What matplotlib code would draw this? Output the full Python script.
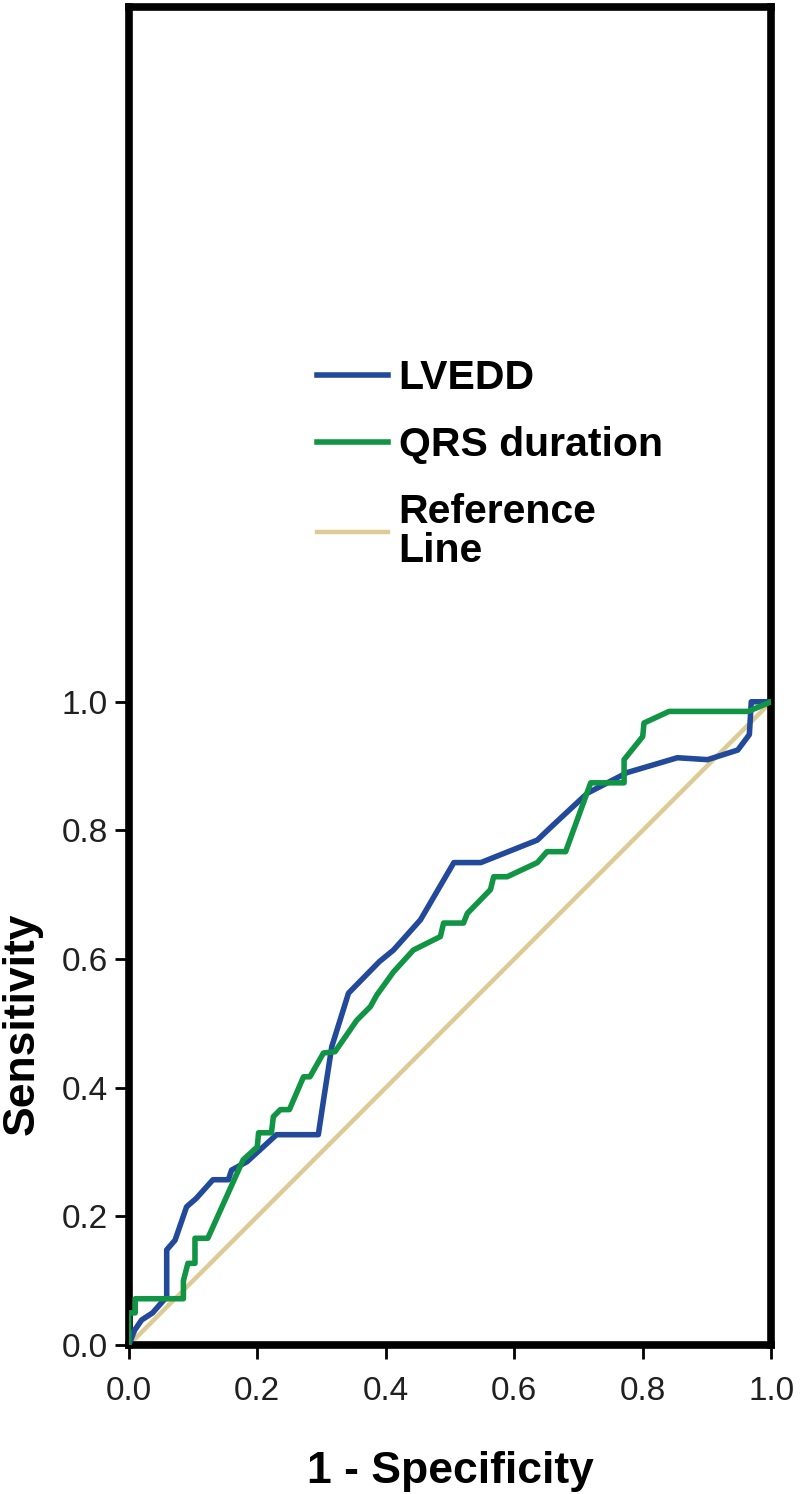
import matplotlib.pyplot as plt

plt.rcParams['font.family'] = ['Liberation Sans', 'DejaVu Sans']

# ROC curve points
lvedd_x = [0.0, 0.009, 0.02, 0.037, 0.059, 0.059, 0.072, 0.09, 0.105, 0.131, 0.155, 0.16, 0.184,
           0.23, 0.295, 0.303, 0.316, 0.342, 0.39, 0.412, 0.454, 0.506, 0.548, 0.636, 0.657,
           0.714, 0.776, 0.854, 0.901, 0.948, 0.966, 0.969, 1.0]
lvedd_y = [0.0, 0.023, 0.039, 0.05, 0.075, 0.148, 0.163, 0.215, 0.228, 0.257, 0.257, 0.272, 0.285,
           0.327, 0.327, 0.38, 0.464, 0.547, 0.596, 0.614, 0.661, 0.75, 0.75, 0.785, 0.805,
           0.858, 0.89, 0.913, 0.91, 0.925, 0.949, 1.0, 1.0]

qrs_x = [0.0, 0.0, 0.01, 0.01, 0.085, 0.085, 0.092, 0.103, 0.103, 0.123, 0.178, 0.2, 0.202, 0.222,
         0.225, 0.236, 0.25, 0.272, 0.282, 0.303, 0.321, 0.355, 0.376, 0.386, 0.412, 0.443, 0.485,
         0.49, 0.521, 0.527, 0.563, 0.568, 0.589, 0.636, 0.651, 0.657, 0.68, 0.719, 0.771, 0.771,
         0.8, 0.802, 0.841, 0.964, 1.0]
qrs_y = [0.0, 0.05, 0.05, 0.072, 0.072, 0.1, 0.127, 0.127, 0.166, 0.166, 0.288, 0.308, 0.33, 0.33,
         0.355, 0.366, 0.366, 0.417, 0.417, 0.454, 0.456, 0.505, 0.526, 0.544, 0.58, 0.614, 0.635,
         0.656, 0.656, 0.671, 0.708, 0.728, 0.728, 0.75, 0.767, 0.767, 0.767, 0.874, 0.874, 0.91,
         0.946, 0.967, 0.985, 0.985, 1.0]

ref_x = [0.0, 1.0]
ref_y = [0.0, 1.0]

ticks = [0.0, 0.2, 0.4, 0.6, 0.8, 1.0]
tick_labels = ['0.0', '0.2', '0.4', '0.6', '0.8', '1.0']

y_top = 2.08

fig = plt.figure(figsize=(8, 14.94), dpi=100)
ax = fig.add_axes([0.161, 0.0997, 0.803, 0.8956])

ax.plot(ref_x, ref_y, color='#dccb94', lw=3.2, label='Reference\nLine', zorder=2)
ax.plot(lvedd_x, lvedd_y, color='#22499a', lw=4.0, label='LVEDD', zorder=3)
ax.plot(qrs_x, qrs_y, color='#129445', lw=4.0, label='QRS duration', zorder=4)

ax.set_xlim(0, 1)
ax.set_ylim(0, y_top)
ax.set_xticks(ticks)
ax.set_xticklabels(tick_labels)
ax.set_yticks(ticks)
ax.set_yticklabels(tick_labels)
ax.tick_params(labelsize=24, length=10, width=2, pad=5, labelcolor='#202020')
ax.tick_params(axis='x', pad=12)

for s in ax.spines.values():
    s.set_linewidth(5.5)

ax.set_xlabel('1 - Specificity', fontsize=32, fontweight='bold', labelpad=32)
ax.set_ylabel('Sensitivity', fontsize=32, fontweight='bold')
ax.yaxis.set_label_coords(-0.134, 0.5 / y_top)

h, l = ax.get_legend_handles_labels()
order = [1, 2, 0]
leg = ax.legend([h[i] for i in order], [l[i] for i in order], loc='center left',
                bbox_to_anchor=(0.235, 0.658), frameon=False,
                prop={'size': 29.5, 'weight': 'bold'},
                handlelength=1.75, handletextpad=0.25, labelspacing=0.7)
for t in leg.get_texts():
    t.set_linespacing(1.05)

fig.savefig('out.png', dpi=100)
